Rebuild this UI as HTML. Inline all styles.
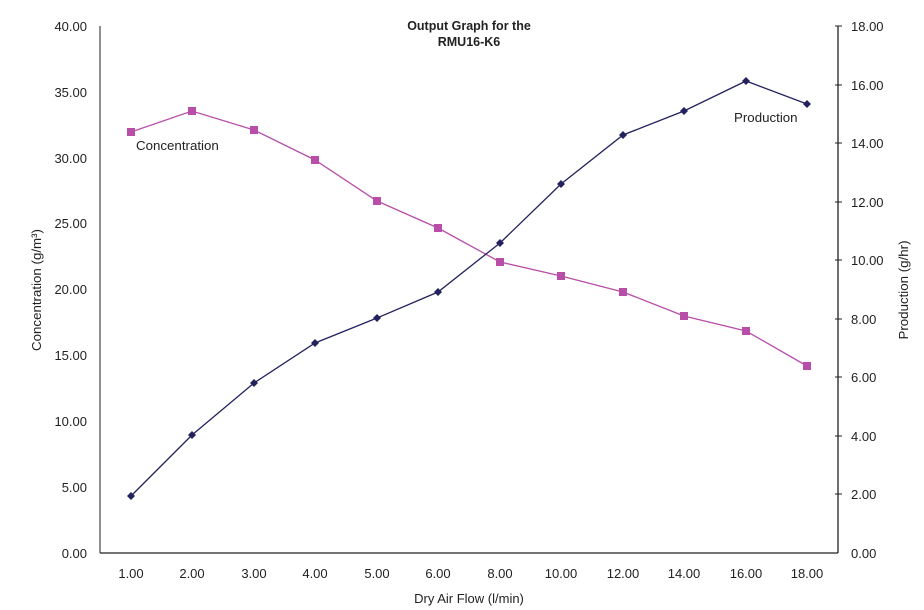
<!DOCTYPE html>
<html><head><style>body{margin:0;background:#fff}svg{display:block}text{font-family:"Liberation Sans",Arial,sans-serif;fill:#222}</style></head>
<body>
<svg width="924" height="610" viewBox="0 0 924 610">
<line x1="100" y1="26" x2="100" y2="553" stroke="#555" stroke-width="1.3"/>
<line x1="100" y1="553" x2="838" y2="553" stroke="#222" stroke-width="1.3"/>
<line x1="838" y1="26" x2="838" y2="553" stroke="#222" stroke-width="1.3"/>
<g font-size="13" text-anchor="end">
<text x="87" y="31">40.00</text><text x="87" y="97">35.00</text><text x="87" y="163">30.00</text><text x="87" y="228">25.00</text><text x="87" y="294">20.00</text><text x="87" y="360">15.00</text><text x="87" y="426">10.00</text><text x="87" y="492">5.00</text><text x="87" y="558">0.00</text>
</g>
<g stroke="#222" stroke-width="1">
<line x1="835" y1="26" x2="842" y2="26"/><line x1="835" y1="85" x2="842" y2="85"/><line x1="835" y1="143" x2="842" y2="143"/><line x1="835" y1="202" x2="842" y2="202"/><line x1="835" y1="260" x2="842" y2="260"/><line x1="835" y1="319" x2="842" y2="319"/><line x1="835" y1="377" x2="842" y2="377"/><line x1="835" y1="436" x2="842" y2="436"/><line x1="835" y1="494" x2="842" y2="494"/>
</g>
<g font-size="13">
<text x="851" y="31">18.00</text><text x="851" y="90">16.00</text><text x="851" y="148">14.00</text><text x="851" y="207">12.00</text><text x="851" y="265">10.00</text><text x="851" y="324">8.00</text><text x="851" y="382">6.00</text><text x="851" y="441">4.00</text><text x="851" y="499">2.00</text><text x="851" y="558">0.00</text>
</g>
<g font-size="13" text-anchor="middle">
<text x="131" y="578">1.00</text><text x="192" y="578">2.00</text><text x="254" y="578">3.00</text><text x="315" y="578">4.00</text><text x="377" y="578">5.00</text><text x="438" y="578">6.00</text><text x="500" y="578">8.00</text><text x="561" y="578">10.00</text><text x="623" y="578">12.00</text><text x="684" y="578">14.00</text><text x="746" y="578">16.00</text><text x="807" y="578">18.00</text>
<text x="469" y="603">Dry Air Flow (l/min)</text>
<text x="469" y="30" font-size="12.5" font-weight="bold">Output Graph for the</text>
<text x="469" y="46" font-size="12.5" font-weight="bold">RMU16-K6</text>
</g>
<text transform="translate(41,290) rotate(-90)" font-size="13.3" text-anchor="middle">Concentration (g/m³)</text>
<text transform="translate(908,290) rotate(-90)" font-size="13.3" text-anchor="middle">Production (g/hr)</text>
<polyline fill="none" stroke="#b84ea8" stroke-width="1.3" points="131,132 192,111 254,130 315,160 377,201 438,228 500,262 561,276 623,292 684,316 746,331 807,366"/>
<g fill="#b84ea8">
<rect x="127" y="128" width="8" height="8"/><rect x="188" y="107" width="8" height="8"/><rect x="250" y="126" width="8" height="8"/><rect x="311" y="156" width="8" height="8"/><rect x="373" y="197" width="8" height="8"/><rect x="434" y="224" width="8" height="8"/><rect x="496" y="258" width="8" height="8"/><rect x="557" y="272" width="8" height="8"/><rect x="619" y="288" width="8" height="8"/><rect x="680" y="312" width="8" height="8"/><rect x="742" y="327" width="8" height="8"/><rect x="803" y="362" width="8" height="8"/>
</g>
<polyline fill="none" stroke="#23225e" stroke-width="1.3" points="131,496 192,435 254,383 315,343 377,318 438,292 500,243 561,184 623,135 684,111 746,81 807,104"/>
<g fill="#23225e">
<path d="M131,492l4,4l-4,4l-4,-4z"/><path d="M192,431l4,4l-4,4l-4,-4z"/><path d="M254,379l4,4l-4,4l-4,-4z"/><path d="M315,339l4,4l-4,4l-4,-4z"/><path d="M377,314l4,4l-4,4l-4,-4z"/><path d="M438,288l4,4l-4,4l-4,-4z"/><path d="M500,239l4,4l-4,4l-4,-4z"/><path d="M561,180l4,4l-4,4l-4,-4z"/><path d="M623,131l4,4l-4,4l-4,-4z"/><path d="M684,107l4,4l-4,4l-4,-4z"/><path d="M746,77l4,4l-4,4l-4,-4z"/><path d="M807,100l4,4l-4,4l-4,-4z"/>
</g>
<text x="136" y="150" font-size="13.3">Concentration</text>
<text x="734" y="122" font-size="13.3">Production</text>
</svg>
</body></html>
